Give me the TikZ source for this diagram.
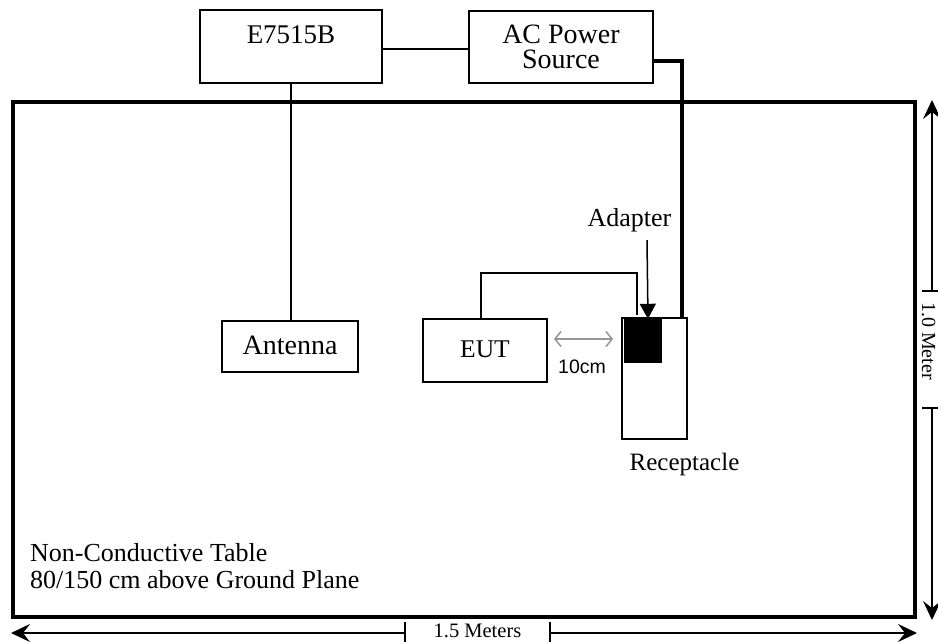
\documentclass[tikz,border=0pt]{standalone}
\usepackage{fontspec}
\setmainfont{Liberation Serif}
\newfontfamily\arialf{Liberation Sans}
\usetikzlibrary{arrows.meta}
\begin{document}
\begin{tikzpicture}[x=1pt,y=-1pt,
  box/.style={draw, line width=2pt, inner sep=0pt, anchor=base},
  plain/.style={inner sep=0pt, anchor=base},
  dimarrow/.style={line width=1.6pt, -{Stealth[length=19pt,width=18pt,inset=7pt]}},
  tick/.style={line width=1.8pt},
  wire/.style={line width=2pt},
  power/.style={line width=3.5pt},
  gap/.style={line width=1.5pt, draw={rgb,255:red,150;green,150;blue,150},
    {Straight Barb[length=6pt,width=15pt]}-{Straight Barb[length=6pt,width=15pt]}},
  ]
\useasboundingbox (0,0) rectangle (938,641);
\fill[white] (0,0) rectangle (938,641);

% table
\node[draw, line width=4pt, minimum width=902pt, minimum height=515pt, inner sep=0pt] (table) at (464,359.5) {};

% boxes
\node[box, font=\fontsize{27}{27}\selectfont, minimum width=182pt, text height=33pt, text depth=40pt] (e) at (291,43) {E7515B};
\node[draw, line width=2pt, minimum width=184pt, minimum height=72pt, inner sep=0pt, align=center,
      font=\fontsize{28}{25.5}\selectfont] (ac) at (561,47) {AC Power\\Source};
\node[box, font=\fontsize{28}{28}\selectfont, minimum width=136pt, text height=33pt, text depth=18pt] (ant) at (290,354) {Antenna};
\node[box, font=\fontsize{25.5}{25.5}\selectfont, minimum width=124pt, text height=38pt, text depth=25pt] (eut) at (485,357) {EUT};
\node[draw, line width=2pt, minimum width=65pt, minimum height=121pt, inner sep=0pt] (recept) at (654.5,378.5) {};
\node[fill=black, minimum width=38pt, minimum height=44pt, inner sep=0pt] (adapter) at (643,341) {};

% labels
\node[plain, font=\fontsize{26}{26}\selectfont] (adlabel) at (629.5,226) {Adapter};
\node[plain, font=\fontsize{25}{25}\selectfont] (reclabel) at (684.5,470) {Receptacle};
\node[plain, font=\arialf\fontsize{19.5}{19.5}\selectfont] (cm) at (582,373) {10cm};
\node[inner sep=0pt, anchor=north west, align=left, font=\fontsize{26}{27.5}\selectfont] (tabletext) at (30,543)
  {Non-Conductive Table\\80/150 cm above Ground Plane};

% connectors
\draw[wire] ([yshift=-2.5pt]e.east) -- ([yshift=-2.5pt]e.east -| ac.west);
\draw[wire] (e.south) -- (e.south |- ant.north);
\draw[power] ([yshift=-14pt]ac.east) -| ([xshift=27.5pt]recept.north);
\draw[wire] ([xshift=-4pt]eut.north) -- ++(0,-45) -| ([xshift=-6pt,yshift=4pt]adapter.north);
\draw[line width=1.5pt, -{Triangle[length=15pt,width=16pt]}] ([xshift=17.5pt,yshift=-8.5pt]adlabel.south) -- ([xshift=5pt]adapter.north);
\coordinate (g1) at (554,339);
\coordinate (g2) at (613,339);
\draw[gap] (g1) -- (g2);

% width dimension
\coordinate (bl) at (11,633);
\coordinate (br) at (917,633);
\coordinate (wt1) at (405,633);
\coordinate (wt2) at (550,633);
\draw[dimarrow] (wt1) -- (bl);
\draw[dimarrow] (wt2) -- (br);
\draw[tick] ([yshift=11pt]wt1) -- ([yshift=-12pt]wt1);
\draw[tick] ([yshift=11pt]wt2) -- ([yshift=-12pt]wt2);
\node[plain, font=\fontsize{20.5}{20.5}\selectfont] (wlabel) at (477.5,637) {1.5 Meters};

% height dimension
\coordinate (rt) at (932,100);
\coordinate (rb) at (932,620);
\coordinate (ht1) at (932,291);
\coordinate (ht2) at (932,408);
\draw[dimarrow] (ht1) -- (rt);
\draw[dimarrow] (ht2) -- (rb);
\draw[tick] ([xshift=-10pt]ht1) -- ([xshift=10pt]ht1);
\draw[tick] ([xshift=-10pt]ht2) -- ([xshift=10pt]ht2);
\node[plain, rotate=-90, font=\fontsize{20}{20}\selectfont] (hlabel) at (922,341) {1.0 Meter};
\end{tikzpicture}
\end{document}
